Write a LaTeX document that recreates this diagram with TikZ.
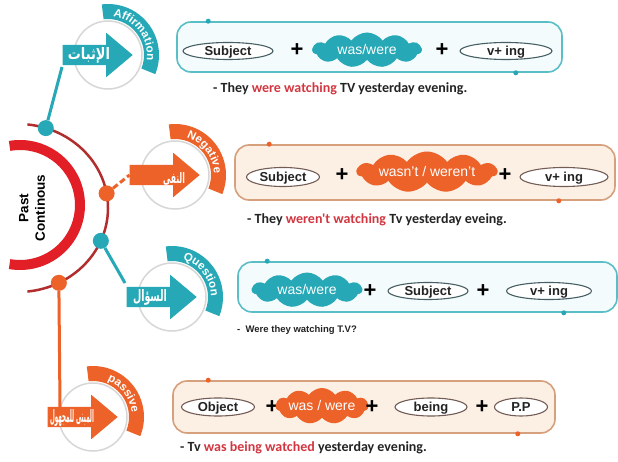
\documentclass[tikz,border=0pt]{standalone}
\usepackage{fontspec}
\usepackage{graphicx}
\setmainfont{Liberation Sans}
\newfontfamily\carlito{Carlito}
\newfontfamily\arabicfont[Script=Arabic]{DejaVu Sans}
\TeXXeTstate=1
\usetikzlibrary{shapes.geometric,shapes.symbols,shapes.arrows,decorations.text,calc}

\definecolor{cTeal}{RGB}{38,168,182}
\definecolor{cOrange}{RGB}{236,98,40}
\definecolor{ringRed}{RGB}{226,30,38}
\definecolor{arcRed}{RGB}{178,45,45}
\definecolor{badgeGray}{RGB}{215,215,215}
\definecolor{boxTealLine}{RGB}{90,190,198}
\definecolor{boxTealFill}{RGB}{244,251,252}
\definecolor{boxOrLine}{RGB}{215,160,125}
\definecolor{boxOrFill}{RGB}{252,240,228}
\definecolor{pillTeal}{RGB}{70,95,100}
\definecolor{pillOr}{RGB}{115,92,85}
\definecolor{txtDark}{RGB}{35,35,35}
\definecolor{exRed}{RGB}{210,55,65}

\newcommand\bandfont{\fontsize{11.5}{11.5}\selectfont\bfseries\color{white}}

% badge: #1 name, #2 centre, #3 colour, #4 band word, #5 arabic label,
% #6 label x offset, #7 label y offset, #8 label width, #9 label height
\newcommand\drawbadge[9]{%
  \begin{scope}[shift={#2}]
    \draw[badgering] (0,0) circle[radius=34];
    \node[single arrow, fill=#3, minimum height=70, single arrow head extend=12,
          single arrow tip angle=80, inner sep=0, inner ysep=10, anchor=tip]
          (#1) at (25,0) {};
    \fill[#3] (97:51) arc[start angle=97,end angle=-22,radius=51]
          -- (-22:36) arc[start angle=-22,end angle=97,radius=36] -- cycle;
    \path[decorate,decoration={text along path,text align=center,text={|\bandfont|#4}}]
          (97:39) arc[start angle=97,end angle=-22,radius=39];
    \node[inner sep=0, text=white] (#1t) at (#6,#7)
          {\resizebox{#8}{#9}{\arabicfont\bfseries #5}};
  \end{scope}}

\tikzset{
  badgering/.style={draw=badgeGray, line width=1.5},
  tbox/.style={draw=boxTealLine, fill=boxTealFill, line width=1.6, rounded corners=14, inner sep=0},
  obox/.style={draw=boxOrLine, fill=boxOrFill, line width=1.6, rounded corners=14, inner sep=0},
  pill/.style={ellipse, draw=#1, line width=1.1, fill=white, inner sep=0,
               text height=9pt, text depth=0pt, text=txtDark,
               font=\fontsize{13}{13}\selectfont\bfseries},
  puff/.style={cloud, cloud puffs=11, cloud puff arc=110, cloud ignores aspect,
               fill=#1, draw=none, inner sep=0, text=white, text height=9pt, text depth=0pt,
               font=\fontsize{14}{14}\selectfont},
  plussign/.style={inner sep=0, text=black, font=\fontsize{22}{22}\selectfont\bfseries},
  example/.style={anchor=west, inner sep=0, text=txtDark, font=\carlito\fontsize{14}{14}\selectfont\bfseries},
  tdot/.style={circle, fill=cTeal, inner sep=0, minimum size=16},
  odot/.style={circle, fill=cOrange, inner sep=0, minimum size=16},
  tline/.style={draw=cTeal, line width=3},
  oline/.style={draw=cOrange, line width=3},
}

\begin{document}
\begin{tikzpicture}[x=1pt,y=1pt]
\fill[white] (0,0) rectangle (618,-462);
\useasboundingbox (0,0) rectangle (618,-462);

% ---- central half ring with title ----
\draw[ringRed, line width=10] (20,-205) ++(100:60) arc[start angle=100,end angle=-100,radius=60];
\node[rotate=90, align=center, inner sep=0, font=\fontsize{13.5}{16.5}\selectfont\bfseries] (title) at (32,-208) {Past\\Continous};
\draw[arcRed, line width=2.5] (18,-208) ++(84:90 and 84) arc[start angle=84,end angle=-84,x radius=90,y radius=84];

% ---- badges ----
\drawbadge{aA}{(108,-55)}{cTeal}{Affirmation}{\beginR الإثبات\endR}{-19}{0}{42pt}{12pt}
\drawbadge{aN}{(175,-175)}{cOrange}{Negative}{\beginR النفى\endR}{-1}{-4}{22pt}{11pt}
\drawbadge{aQ}{(172,-297)}{cTeal}{Question}{\beginR السؤال\endR}{-22}{0}{34pt}{12pt}
\drawbadge{aP}{(93,-417)}{cOrange}{passive}{\beginR المبنى للمجهول\endR}{-21}{-1}{44pt}{13pt}

% ---- dots on the outer arc ----
\path (18,-208) ++(72:90 and 84) node[tdot] (dA) {};
\path (18,-208) ++(10:90 and 84) node[odot] (dN) {};
\path (18,-208) ++(-23:90 and 84) node[tdot] (dQ) {};
\path (18,-208) ++(-63:90 and 84) node[odot] (dP) {};

% ---- connectors ----
\coordinate (aEnd) at (62,-67);
\coordinate (qEnd) at (125,-283);
\coordinate (pEnd) at (60,-407);
\draw[tline] (dA) -- (aEnd);
\draw[oline, dash pattern=on 6pt off 3pt] (dN) -- (aN.tail);
\draw[tline] (dQ) -- (qEnd);
\draw[oline] (dP) -- (pEnd);

% ---- affirmative formula ----
\node[tbox, minimum width=385, minimum height=50] (b1) at (369.5,-47) {};
\fill[cTeal] ($(b1.north west)+(32,0)$) circle[radius=2.5];
\fill[cTeal] ($(b1.south east)+(-47,0)$) circle[radius=2.5];
\node[pill=pillTeal, minimum width=90, minimum height=17] (s1) at (228,-51) {Subject};
\node[plussign] (p1a) at (297,-50) {+};
\node[puff=cTeal, minimum width=109, minimum height=35] (c1) at (367,-50) {was/were};
\node[plussign] (p1b) at (442,-50) {+};
\node[pill=pillTeal, minimum width=92, minimum height=17] (v1) at (506,-51) {v+ ing};
\node[example] (e1) at (213,-89) {- They \textcolor{exRed}{were watching} TV yesterday evening.};

% ---- negative formula ----
\node[obox, minimum width=380, minimum height=55] (b2) at (425,-172.5) {};
\fill[cOrange] ($(b2.north west)+(35,0)$) circle[radius=2.5];
\fill[cOrange] ($(b2.south east)+(-57,0)$) circle[radius=2.5];
\node[pill=pillOr, minimum width=73, minimum height=19] (s2) at (283,-177) {Subject};
\node[plussign] (p2a) at (342,-175) {+};
\node[puff=cOrange, minimum width=140, minimum height=41] (c2) at (427,-172) {wasn't / weren't};
\node[plussign] (p2b) at (505,-175) {+};
\node[pill=pillOr, minimum width=88, minimum height=19] (v2) at (564,-177) {v+ ing};
\node[example] (e2) at (247,-220) {- They \textcolor{exRed}{weren't watching} Tv yesterday eveing.};

% ---- question formula ----
\node[tbox, minimum width=379, minimum height=50] (b3) at (427.5,-287) {};
\fill[cTeal] ($(b3.north west)+(30,0)$) circle[radius=2.5];
\fill[cTeal] ($(b3.south east)+(-54,0)$) circle[radius=2.5];
\node[puff=cTeal, minimum width=110, minimum height=35] (c3) at (307,-290) {was/were};
\node[plussign] (p3a) at (370,-291) {+};
\node[pill=pillTeal, minimum width=80, minimum height=17] (s3) at (428,-291) {Subject};
\node[plussign] (p3b) at (483,-291) {+};
\node[pill=pillTeal, minimum width=85, minimum height=17] (v3) at (549,-291) {v+ ing};
\node[example, font=\fontsize{9.5}{9.5}\selectfont\bfseries] (e3) at (237,-330) {-~~Were they watching T.V?};

% ---- passive formula ----
\node[obox, minimum width=382, minimum height=52] (b4) at (364,-407) {};
\fill[cOrange] ($(b4.north west)+(36,0)$) circle[radius=2.5];
\fill[cOrange] ($(b4.south east)+(-38,0)$) circle[radius=2.5];
\node[pill=pillOr, minimum width=73, minimum height=18] (o4) at (218,-407) {Object};
\node[plussign] (p4a) at (272,-407) {+};
\node[puff=cOrange, minimum width=75, minimum height=36] (c4) at (322,-406) {was / were};
\node[plussign] (p4b) at (372,-407) {+};
\node[pill=pillOr, minimum width=72, minimum height=18] (g4) at (431,-407) {being};
\node[plussign] (p4c) at (482,-407) {+};
\node[pill=pillOr, minimum width=53, minimum height=18] (pp4) at (521,-407) {P.P};
\node[example] (e4) at (180,-448) {- Tv \textcolor{exRed}{was being watched} yesterday evening.};
\end{tikzpicture}
\end{document}
